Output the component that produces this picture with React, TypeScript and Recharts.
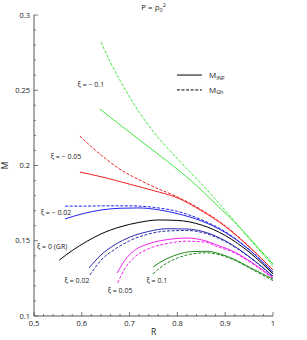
import React from "react";
import { LineChart, Line, XAxis, YAxis, ReferenceDot } from "recharts";

// ---- tick values / labels ----
const xMajorVals = [0.5, 0.6, 0.7, 0.8, 0.9, 1];
const xMajorLabels = ["0.5", "0.6", "0.7", "0.8", "0.9", "1"];
const yMajorVals = [0.1, 0.15, 0.2, 0.25, 0.3];
const yMajorLabels = ["0.1", "0.15", "0.2", "0.25", "0.3"];
const xTicks: number[] = [];
for (let i = 0; i <= 25; i++) xTicks.push(Math.round((0.5 + i * 0.02) * 1000) / 1000);
const yTicks: number[] = [];
for (let i = 0; i <= 20; i++) yTicks.push(Math.round((0.1 + i * 0.01) * 1000) / 1000);

// ---- series: [R, M] ----
const infXiM01 = [[0.638, 0.2375], [0.68, 0.227], [0.73, 0.2147], [0.78, 0.2025], [0.83, 0.1895], [0.88, 0.1745], [0.93, 0.159], [0.97, 0.145], [1.0, 0.1345]];
const ghXiM01 = [[0.64, 0.282], [0.66, 0.2685], [0.68, 0.2565], [0.7, 0.2455], [0.72, 0.2355], [0.74, 0.2265], [0.76, 0.2185], [0.78, 0.2115], [0.8, 0.2045], [0.83, 0.1945], [0.87, 0.181], [0.91, 0.1665], [0.95, 0.1515], [1.0, 0.1335]];
const infXiM005 = [[0.596, 0.1957], [0.65, 0.1918], [0.7, 0.1876], [0.75, 0.1833], [0.8, 0.1785], [0.85, 0.17], [0.9, 0.1595], [0.95, 0.146], [1.0, 0.1305]];
const ghXiM005 = [[0.596, 0.2196], [0.62, 0.2125], [0.65, 0.2045], [0.68, 0.1975], [0.72, 0.1905], [0.76, 0.1845], [0.8, 0.1792], [0.85, 0.1706], [0.9, 0.16], [0.95, 0.1462], [1.0, 0.1305]];
const infXiM002 = [[0.565, 0.1645], [0.6, 0.1678], [0.64, 0.1704], [0.68, 0.1716], [0.72, 0.1718], [0.76, 0.1706], [0.8, 0.168], [0.85, 0.1632], [0.9, 0.1555], [0.95, 0.144], [1.0, 0.129]];
const ghXiM002 = [[0.565, 0.173], [0.6, 0.173], [0.65, 0.1732], [0.7, 0.1732], [0.75, 0.1722], [0.8, 0.1695], [0.85, 0.164], [0.9, 0.156], [0.95, 0.1442], [1.0, 0.129]];
const infXi0 = [[0.553, 0.1372], [0.58, 0.1435], [0.61, 0.1495], [0.64, 0.1545], [0.68, 0.1592], [0.72, 0.1622], [0.76, 0.1638], [0.8, 0.1635], [0.85, 0.1605], [0.9, 0.1535], [0.95, 0.1425], [1.0, 0.128]];
const infXi002 = [[0.615, 0.1319], [0.64, 0.1405], [0.67, 0.1475], [0.7, 0.1523], [0.74, 0.1562], [0.78, 0.158], [0.82, 0.1578], [0.86, 0.1555], [0.9, 0.15], [0.95, 0.1395], [1.0, 0.1265]];
const ghXi002 = [[0.617, 0.1273], [0.64, 0.137], [0.67, 0.1445], [0.7, 0.15], [0.74, 0.1545], [0.78, 0.1565], [0.82, 0.1568], [0.86, 0.1548], [0.9, 0.1495], [0.95, 0.1392], [1.0, 0.1262]];
const infXi005 = [[0.674, 0.1286], [0.69, 0.137], [0.71, 0.1435], [0.74, 0.148], [0.78, 0.1508], [0.82, 0.1518], [0.86, 0.1498], [0.88, 0.1475], [0.92, 0.1425], [0.95, 0.1368], [1.0, 0.1255]];
const ghXi005 = [[0.675, 0.122], [0.69, 0.1315], [0.71, 0.139], [0.74, 0.1447], [0.78, 0.1482], [0.82, 0.1497], [0.86, 0.149], [0.88, 0.1465], [0.92, 0.1418], [0.95, 0.1362], [1.0, 0.125]];
const infXi01 = [[0.749, 0.1326], [0.77, 0.1368], [0.8, 0.1408], [0.83, 0.1428], [0.86, 0.143], [0.89, 0.1412], [0.92, 0.1375], [0.95, 0.1325], [1.0, 0.1245]];
const ghXi01 = [[0.749, 0.128], [0.77, 0.1335], [0.8, 0.1385], [0.83, 0.1412], [0.86, 0.142], [0.89, 0.1405], [0.92, 0.137], [0.95, 0.132], [1.0, 0.1235]];

// ---- annotations ----
const annoText = ["ξ = − 0.1", "ξ = − 0.05", "ξ = − 0.02", "ξ = 0 (GR)", "ξ =  0.02", "ξ = 0.05", "ξ = 0.1"];
const annoR = [0.619, 0.567, 0.546, 0.538, 0.59, 0.68, 0.757];
const annoM = [0.254, 0.2057, 0.169, 0.1458, 0.1233, 0.1166, 0.1233];

const toData = (arr: number[][]) => arr.map(([R, M]) => ({ R, M }));

const series = [
  { d: infXiM01, c: "#3ce83c", dash: false },
  { d: ghXiM01, c: "#3ce83c", dash: true },
  { d: infXiM005, c: "#ee2222", dash: false },
  { d: ghXiM005, c: "#ee2222", dash: true },
  { d: infXiM002, c: "#2222ee", dash: false },
  { d: ghXiM002, c: "#2222ee", dash: true },
  { d: infXi0, c: "#000000", dash: false },
  { d: infXi002, c: "#2a2aa8", dash: false },
  { d: ghXi002, c: "#2a2aa8", dash: true },
  { d: infXi005, c: "#ee22ee", dash: false },
  { d: ghXi005, c: "#ee22ee", dash: true },
  { d: infXi01, c: "#1e8a1e", dash: false },
  { d: ghXi01, c: "#1e8a1e", dash: true },
];

const FONT = "'Open Sans', sans-serif";
const AX = "#555";

const idxOf = (vals: number[], v: number) => vals.findIndex((m) => Math.abs(m - v) < 1e-6);

const XTick = (props: any) => {
  const { x, y, payload, side } = props;
  const i = idxOf(xMajorVals, payload.value);
  const len = i >= 0 ? 4 : 2;
  const dir = side === "bottom" ? -1 : 1;
  return (
    <g>
      <line x1={x} x2={x} y1={y} y2={y + dir * len} stroke={AX} strokeWidth={0.8} />
      {side === "bottom" && i >= 0 && (
        <text x={x} y={y + 10} textAnchor="middle" fontSize={7.5} fontFamily={FONT} fill="#222">
          {xMajorLabels[i]}
        </text>
      )}
    </g>
  );
};

const YTick = (props: any) => {
  const { x, y, payload, side } = props;
  const i = idxOf(yMajorVals, payload.value);
  const len = i >= 0 ? 4 : 2;
  const dir = side === "left" ? 1 : -1;
  return (
    <g>
      <line x1={x} x2={x + dir * len} y1={y} y2={y} stroke={AX} strokeWidth={0.8} />
      {side === "left" && i >= 0 && (
        <text x={x - 4} y={y + 2.6} textAnchor="end" fontSize={7.5} fontFamily={FONT} fill="#222">
          {yMajorLabels[i]}
        </text>
      )}
    </g>
  );
};

const textAt = (render: (x: number, y: number) => React.ReactNode) => (props: any) => {
  const vb = props.viewBox || {};
  const x = (vb.x ?? 0) + (vb.width ?? 0) / 2;
  const y = (vb.y ?? 0) + (vb.height ?? 0) / 2;
  return <g>{render(x, y)}</g>;
};

export default function App() {
  return (
    <div style={{ position: "absolute", left: 0, top: 0, width: 307, height: 340, background: "#fff" }}>
      <LineChart width={307} height={340} margin={{ top: 15, right: 34, bottom: 0, left: 0 }}>
        <XAxis
          xAxisId={0}
          dataKey="R"
          type="number"
          domain={[0.5, 1]}
          allowDataOverflow
          ticks={xTicks}
          interval={0}
          height={24}
          tickSize={0}
          tickMargin={0}
          tickLine={false}
          axisLine={{ stroke: AX }}
          tick={<XTick side="bottom" />}
        />
        <XAxis
          xAxisId="top"
          orientation="top"
          type="number"
          domain={[0.5, 1]}
          allowDataOverflow
          ticks={xTicks}
          interval={0}
          height={0}
          tickSize={0}
          tickMargin={0}
          tickLine={false}
          axisLine={{ stroke: AX }}
          tick={<XTick side="top" />}
        />
        <YAxis
          yAxisId={0}
          type="number"
          domain={[0.1, 0.3]}
          allowDataOverflow
          ticks={yTicks}
          interval={0}
          width={34}
          tickSize={0}
          tickMargin={0}
          tickLine={false}
          axisLine={{ stroke: AX }}
          tick={<YTick side="left" />}
        />
        <YAxis
          yAxisId="right"
          orientation="right"
          type="number"
          domain={[0.1, 0.3]}
          allowDataOverflow
          ticks={yTicks}
          interval={0}
          width={0}
          tickSize={0}
          tickMargin={0}
          tickLine={false}
          axisLine={{ stroke: AX }}
          tick={<YTick side="right" />}
        />
        {series.map((s, k) => (
          <Line
            key={k}
            data={toData(s.d)}
            dataKey="M"
            type="monotone"
            stroke={s.c}
            strokeWidth={1}
            strokeDasharray={s.dash ? "3 1.6" : undefined}
            dot={false}
            activeDot={false}
            isAnimationActive={false}
          />
        ))}
        {annoText.map((t, k) => (
          <ReferenceDot
            key={"a" + k}
            x={annoR[k]}
            y={annoM[k]}
            r={0}
            fill="none"
            stroke="none"
            ifOverflow="visible"
            label={textAt((x, y) => (
              <text x={x} y={y + 2.4} textAnchor="middle" fontSize={7} fontFamily={FONT} fill="#222">
                {t}
              </text>
            ))}
          />
        ))}
        {/* legend */}
        <ReferenceDot
          x={0.799}
          y={0.2601}
          r={0}
          fill="none"
          stroke="none"
          ifOverflow="visible"
          label={textAt((x, y) => (
            <g>
              <line x1={x} x2={x + 25} y1={y} y2={y} stroke="#000" strokeWidth={1} />
              <text x={x + 32} y={y + 3} fontSize={8} fontFamily={FONT} fill="#222">
                M<tspan fontSize={5.5} dy={1.5}>INF</tspan>
              </text>
            </g>
          ))}
        />
        <ReferenceDot
          x={0.799}
          y={0.2502}
          r={0}
          fill="none"
          stroke="none"
          ifOverflow="visible"
          label={textAt((x, y) => (
            <g>
              <line x1={x} x2={x + 25} y1={y} y2={y} stroke="#000" strokeWidth={1} strokeDasharray="3 1.6" />
              <text x={x + 32} y={y + 3} fontSize={8} fontFamily={FONT} fill="#222">
                M<tspan fontSize={5.5} dy={1.5}>Gh</tspan>
              </text>
            </g>
          ))}
        />
        {/* title */}
        <ReferenceDot
          x={0.75}
          y={0.3}
          r={0}
          fill="none"
          stroke="none"
          ifOverflow="visible"
          label={textAt((x, y) => (
            <text x={x} y={y - 5} textAnchor="middle" fontSize={8} fontFamily={FONT} fill="#222">
              P = ρ<tspan fontSize={5.5} dy={1.5}>0</tspan>
              <tspan fontSize={5.5} dy={-5}>2</tspan>
            </text>
          ))}
        />
        {/* axis titles */}
        <ReferenceDot
          x={0.75}
          y={0.1}
          r={0}
          fill="none"
          stroke="none"
          ifOverflow="visible"
          label={textAt((x, y) => (
            <text x={x} y={y + 19} textAnchor="middle" fontSize={8.5} fontFamily={FONT} fill="#222">
              R
            </text>
          ))}
        />
        <ReferenceDot
          x={0.5}
          y={0.2}
          r={0}
          fill="none"
          stroke="none"
          ifOverflow="visible"
          label={textAt((x, y) => (
            <text
              x={x - 26}
              y={y}
              textAnchor="middle"
              fontSize={8.5}
              fontFamily={FONT}
              fill="#222"
              transform={`rotate(-90 ${x - 26} ${y})`}
            >
              M
            </text>
          ))}
        />
      </LineChart>
    </div>
  );
}
